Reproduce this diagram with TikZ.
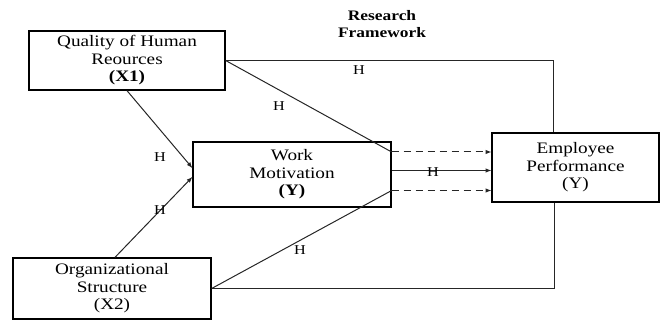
\documentclass[tikz,border=0pt]{standalone}
\usepackage{fontspec}
\setmainfont{Liberation Serif}[FakeStretch=1.2]
\usepackage{tikz}
\usetikzlibrary{arrows}

\begin{document}
\begin{tikzpicture} [x=1pt, y=-1pt, box/.style={draw, line width=1.3pt, inner sep=0pt, align=center, font=\fontsize{16}{17.5}\selectfont},
    link/.style={line width=1pt, draw=black!85}, hyp/.style={font=\fontsize{13.5}{13.5}\selectfont, inner sep=1pt}]
      \useasboundingbox (0,0) rectangle (661,323);
      \node (title) at (382,24) [align=center, font=\fontsize{14.5}{17}\selectfont\bfseries] {Research\\Framework};

      \node[box, minimum width=196pt, minimum height=59pt] (qhr) at (127,60.5) {Quality of Human\\Reources\\\textbf{(X1)}};
      \node[box, minimum width=198pt, minimum height=65pt] (wm) at (292,174.5) {Work\\Motivation\\\textbf{(Y)}};
      \node[box, minimum width=167pt, minimum height=69pt] (ep) at (575.5,167.5) {Employee\\Performance\\(Y)};
      \node[box, minimum width=198pt, minimum height=61pt] (org) at (112,288.5) {Organizational\\Structure\\(X2)};

      \coordinate (wmhi) at ([yshift=22.5pt]wm.east);
      \coordinate (wmmid) at ([yshift=4pt]wm.east);
      \coordinate (wmlo) at ([yshift=-16pt]wm.east);

      \draw[link] (qhr.east) -| ([xshift=-22.5pt]ep.north);
      \draw[link] (org.east) -| ([xshift=-21.5pt]ep.south);
      \draw[link] (qhr.east) -- (wmhi);
      \draw[link] (org.east) -- (wmlo);
      \draw[link, -latex] (qhr.south) -- ([yshift=6.5pt]wm.west);
      \draw[link, -latex] ([xshift=3pt]org.north) -- ([yshift=-2.5pt]wm.west);
      \draw[link, dash pattern=on 7pt off 5pt, -latex] (wmhi) -- (wmhi -| ep.west);
      \draw[link, -latex] (wmmid) -- (wmmid -| ep.west);
      \draw[link, dash pattern=on 7pt off 5pt, -latex] (wmlo) -- (wmlo -| ep.west);

      \node[hyp] (h1) at (359,70) {H};
      \node[hyp] (h2) at (279,106) {H};
      \node[hyp] (h3) at (160,157) {H};
      \node[hyp] (h4) at (160,210) {H};
      \node[hyp] (h5) at (300,250) {H};
      \node[hyp] (h6) at (433,172) {H};
\end{tikzpicture}
\end{document}
